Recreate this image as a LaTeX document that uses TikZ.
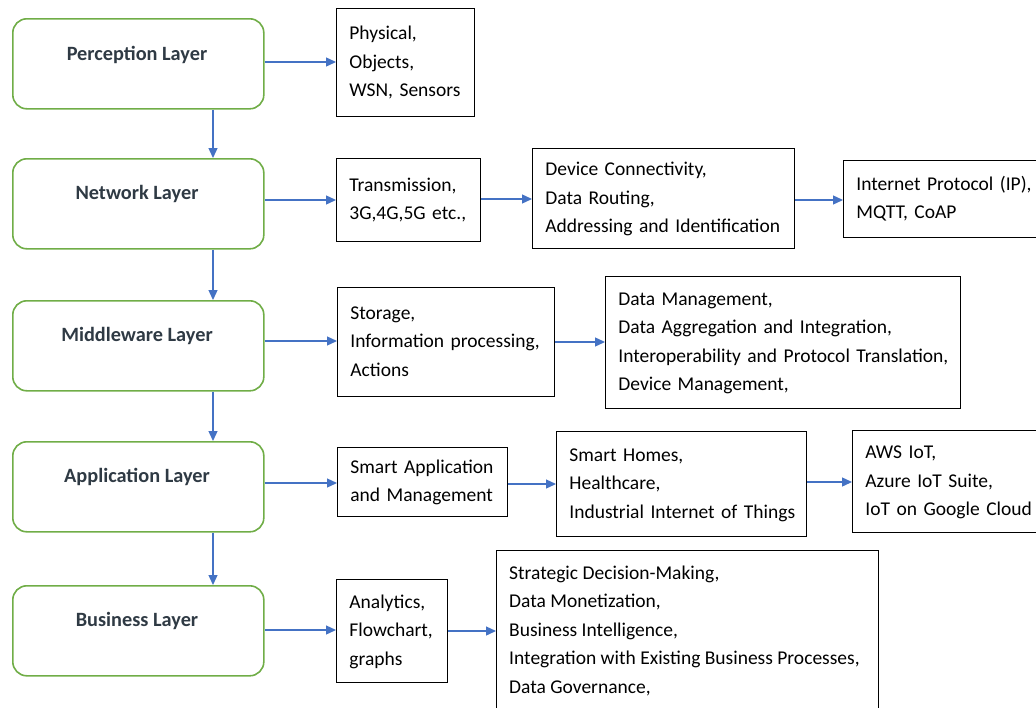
\documentclass[tikz,border=0pt]{standalone}
\usepackage{fontspec}
\setmainfont{Carlito}
\usetikzlibrary{arrows.meta}
\definecolor{lgreen}{HTML}{70AD47}
\definecolor{lblue}{HTML}{4472C4}
\definecolor{ltext}{HTML}{2F3A44}
\newcommand{\boxlines}[1]{\begin{tabular}{@{}l@{}}#1\end{tabular}}
\tikzset{
  layer/.style={draw=lgreen, line width=1.6pt, rounded corners=14pt, minimum width=251pt, minimum height=90pt, anchor=north west},
  layerlabel/.style={font=\fontsize{20.3}{24}\selectfont\bfseries, text=ltext},
  infobox/.style={draw=black, line width=0.8pt, anchor=north west, align=left, inner xsep=13pt, inner ysep=0pt, font=\fontsize{19.5}{28.5}\selectfont},
  conn/.style={draw=lblue, line width=1.3pt, -{Triangle[length=10pt,width=9pt]}}
}
\begin{document}
\begin{tikzpicture}[x=1pt,y=-1pt]
\useasboundingbox (0,0) rectangle (1036,707);
\clip (0,0) rectangle (1036,707);
% layers
\node[layer] (per) at (12,18) {};
\node[layer] (net) at (12,158) {};
\node[layer] (mid) at (12,300) {};
\node[layer] (app) at (12,441) {};
\node[layer] (bus) at (12,585) {};
\node[layerlabel] at (137,55) {Perception Layer};
\node[layerlabel] at (137,194) {Network Layer};
\node[layerlabel] at (137,336) {Middleware Layer};
\node[layerlabel] at (137,477) {Application Layer};
\node[layerlabel] at (137,621) {Business Layer};
% boxes
\node[infobox, minimum width=138pt, minimum height=108pt, text width=112pt] (phy) at (336,8) {\boxlines{Physical,\\Objects,\\WSN, Sensors}};
\node[infobox, minimum width=144pt, minimum height=83pt, text width=118pt] (tra) at (336,158) {\boxlines{Transmission,\\3G,4G,5G etc.,}};
\node[infobox, minimum width=262pt, minimum height=100pt, text width=236pt] (dev) at (532,148) {\boxlines{Device Connectivity,\\Data Routing,\\Addressing and Identification}};
\node[infobox, minimum width=210pt, minimum height=77pt, text width=184pt] (ip) at (843,160) {\boxlines{Internet Protocol (IP),\\MQTT, CoAP}};
\node[infobox, minimum width=217pt, minimum height=109pt, text width=191pt] (sto) at (337,287) {\boxlines{Storage,\\Information processing,\\Actions}};
\node[infobox, minimum width=355pt, minimum height=132pt, text width=329pt] (dm) at (605,276) {\boxlines{Data Management,\\Data Aggregation and Integration,\\Interoperability and Protocol Translation,\\Device Management,}};
\node[infobox, minimum width=170pt, minimum height=69pt, text width=144pt] (sa) at (337,447) {\boxlines{Smart Application\\and Management}};
\node[infobox, minimum width=250pt, minimum height=105pt, text width=224pt] (sh) at (556,431) {\boxlines{Smart Homes,\\Healthcare,\\Industrial Internet of Things}};
\node[infobox, minimum width=200pt, minimum height=102pt, text width=174pt] (aws) at (852,430) {\boxlines{AWS IoT,\\Azure IoT Suite,\\IoT on Google Cloud}};
\node[infobox, minimum width=111pt, minimum height=103pt, text width=85pt] (ana) at (336,579) {\boxlines{Analytics,\\Flowchart,\\graphs}};
\node[draw=black, line width=0.8pt, anchor=north west, minimum width=382pt, minimum height=180pt] (str) at (496,550) {};
\node[anchor=north west, align=left, inner sep=0pt, font=\fontsize{19.5}{28.5}\selectfont] (strt) at (509,559) {\boxlines{Strategic Decision-Making,\\Data Monetization,\\Business Intelligence,\\Integration with Existing Business Processes,\\Data Governance,}};
% vertical connectors
\draw[conn] (per.south -| 213,0) -- (net.north -| 213,0);
\draw[conn] (net.south -| 213,0) -- (mid.north -| 213,0);
\draw[conn] (mid.south -| 213,0) -- (app.north -| 213,0);
\draw[conn] (app.south -| 213,0) -- (bus.north -| 213,0);
% horizontal connectors
\draw[conn] (per.east |- 0,62) -- (phy.west |- 0,62);
\draw[conn] (net.east |- 0,200) -- (tra.west |- 0,200);
\draw[conn] (mid.east |- 0,341) -- (sto.west |- 0,341);
\draw[conn] (app.east |- 0,483) -- (sa.west |- 0,483);
\draw[conn] (bus.east |- 0,630) -- (ana.west |- 0,630);
\draw[conn] (tra.east |- 0,199) -- (dev.west |- 0,199);
\draw[conn] (dev.east |- 0,200) -- (ip.west |- 0,200);
\draw[conn] (sto.east |- 0,342) -- (dm.west |- 0,342);
\draw[conn] (sa.east |- 0,484) -- (sh.west |- 0,484);
\draw[conn] (sh.east |- 0,482) -- (aws.west |- 0,482);
\draw[conn] (ana.east |- 0,631) -- (str.west |- 0,631);
\end{tikzpicture}
\end{document}
